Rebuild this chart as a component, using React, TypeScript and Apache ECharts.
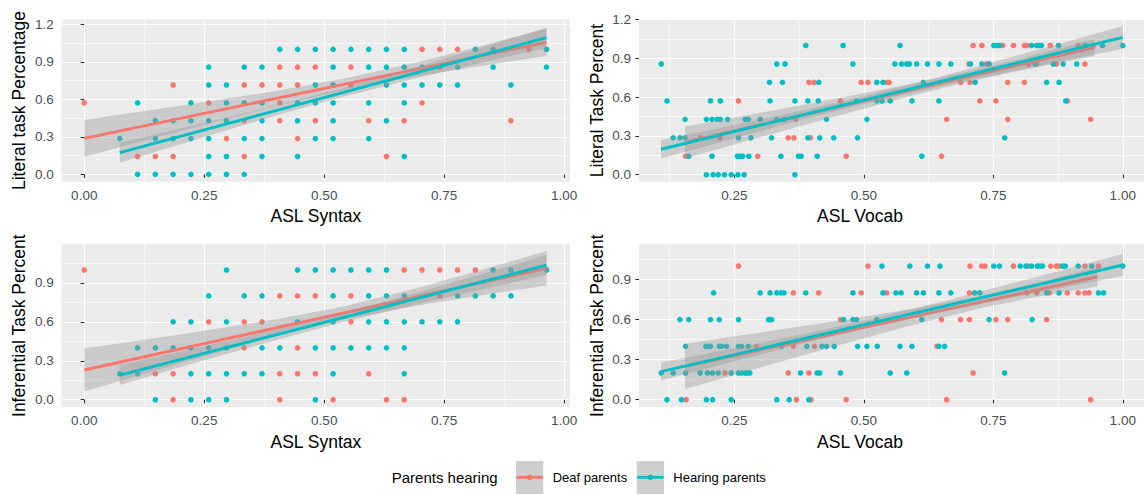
import React, { useEffect, useRef } from "react";
import * as echarts from "echarts";

const RED = "#F8766D";
const TEAL = "#00BFC4";
const FONT = "Liberation Sans, Arial, sans-serif";

// Raw item counts of the scored measures
const SYNTAX_ITEMS = 27;
const LITERAL_ITEMS = 7;
const INFERENTIAL_ITEMS = 5;

// ---- Panel 1: ASL Syntax score (/27) vs Literal task score (/7)
const P1_DEAF: number[][] = [
  [19, 7], [20, 7], [21, 7], [25, 7], [26, 7],
  [11, 6], [12, 6], [13, 6], [15, 6], [20, 6],
  [5, 5], [9, 5], [10, 5], [11, 5], [12, 5], [15, 5],
  [0, 4], [7, 4], [11, 4], [19, 4],
  [9, 3], [11, 3], [13, 3], [16, 3], [18, 3], [24, 3],
  [8, 2], [12, 2],
  [3, 1], [4, 1], [5, 1], [9, 1], [17, 1],
];
const P1_HEARING: number[][] = [
  [11, 7], [12, 7], [13, 7], [14, 7], [15, 7], [16, 7], [17, 7], [18, 7], [22, 7], [23, 7], [26, 7],
  [7, 6], [9, 6], [10, 6], [14, 6], [16, 6], [17, 6], [18, 6], [19, 6], [21, 6], [23, 6], [26, 6],
  [7, 5], [8, 5], [13, 5], [14, 5], [17, 5], [18, 5], [19, 5], [20, 5], [21, 5], [24, 5],
  [3, 4], [6, 4], [8, 4], [9, 4], [10, 4], [12, 4], [13, 4], [14, 4], [16, 4], [18, 4],
  [4, 3], [5, 3], [6, 3], [7, 3], [8, 3], [10, 3], [12, 3], [14, 3], [17, 3],
  [2, 2], [4, 2], [5, 2], [6, 2], [7, 2], [9, 2], [10, 2], [13, 2], [14, 2], [16, 2],
  [7, 1], [8, 1], [10, 1], [12, 1], [18, 1],
  [3, 0], [4, 0], [5, 0], [6, 0], [7, 0], [8, 0], [9, 0],
];

// ---- Panel 2: ASL Vocab (proportion) vs Literal task score (/7)
const P2_DEAF: number[][] = [
  [0.711, 7], [0.728, 7], [0.768, 7], [0.789, 7], [0.81, 7], [0.815, 7], [0.86, 7], [0.914, 7], [0.943, 7],
  [0.703, 6], [0.737, 6], [0.818, 6], [0.834, 6], [0.872, 6], [0.927, 6],
  [0.394, 5], [0.404, 5], [0.495, 5], [0.508, 5], [0.544, 5], [0.549, 5], [0.687, 5], [0.705, 5], [0.778, 5], [0.81, 5],
  [0.258, 4], [0.455, 4], [0.724, 4], [0.755, 4], [0.893, 4],
  [0.369, 3], [0.66, 3], [0.778, 3], [0.938, 3],
  [0.184, 2], [0.222, 2], [0.354, 2], [0.365, 2], [0.397, 2],
  [0.156, 1], [0.295, 1], [0.466, 1], [0.65, 1],
];
const P2_HEARING: number[][] = [
  [0.388, 7], [0.46, 7], [0.57, 7], [0.751, 7], [0.757, 7], [0.762, 7], [0.824, 7], [0.834, 7], [0.838, 7], [0.843, 7], [0.876, 7], [0.927, 7], [0.961, 7], [1.0, 7],
  [0.109, 6], [0.332, 6], [0.348, 6], [0.479, 6], [0.56, 6], [0.573, 6], [0.583, 6], [0.588, 6], [0.602, 6], [0.623, 6], [0.645, 6], [0.668, 6], [0.706, 6], [0.728, 6], [0.742, 6], [0.831, 6], [0.866, 6], [0.885, 6], [0.911, 6],
  [0.318, 5], [0.343, 5], [0.413, 5], [0.525, 5], [0.537, 5], [0.615, 5], [0.715, 5], [0.853, 5], [0.877, 5],
  [0.12, 4], [0.204, 4], [0.223, 4], [0.319, 4], [0.367, 4], [0.392, 4], [0.412, 4], [0.486, 4], [0.525, 4], [0.535, 4], [0.551, 4], [0.593, 4], [0.645, 4], [0.89, 4],
  [0.155, 3], [0.196, 3], [0.207, 3], [0.217, 3], [0.223, 3], [0.237, 3], [0.271, 3], [0.277, 3], [0.3, 3], [0.332, 3], [0.346, 3], [0.428, 3], [0.506, 3],
  [0.132, 2], [0.145, 2], [0.155, 2], [0.258, 2], [0.282, 2], [0.322, 2], [0.392, 2], [0.415, 2], [0.442, 2], [0.488, 2], [0.772, 2],
  [0.162, 1], [0.207, 1], [0.256, 1], [0.261, 1], [0.266, 1], [0.278, 1], [0.34, 1], [0.374, 1], [0.379, 1], [0.41, 1], [0.612, 1],
  [0.196, 0], [0.209, 0], [0.219, 0], [0.231, 0], [0.244, 0], [0.257, 0], [0.269, 0], [0.367, 0],
];

// ---- Panel 3: ASL Syntax score (/27) vs Inferential task score (/5)
const P3_DEAF: number[][] = [
  [0, 5], [18, 5], [19, 5], [20, 5], [21, 5], [22, 5], [26, 5],
  [11, 4], [12, 4], [13, 4], [15, 4], [20, 4],
  [7, 3], [9, 3], [10, 3], [15, 3],
  [9, 2], [12, 2],
  [4, 1], [5, 1], [11, 1], [12, 1], [13, 1], [16, 1],
  [5, 0], [11, 0], [14, 0], [17, 0], [18, 0],
];
const P3_HEARING: number[][] = [
  [8, 5], [12, 5], [13, 5], [14, 5], [15, 5], [16, 5], [17, 5], [23, 5], [24, 5], [26, 5],
  [7, 4], [9, 4], [10, 4], [14, 4], [16, 4], [17, 4], [18, 4], [21, 4], [22, 4], [23, 4], [24, 4],
  [5, 3], [6, 3], [8, 3], [12, 3], [14, 3], [16, 3], [17, 3], [18, 3], [19, 3], [20, 3], [21, 3],
  [3, 2], [4, 2], [5, 2], [6, 2], [7, 2], [8, 2], [10, 2], [11, 2], [13, 2], [14, 2], [15, 2], [16, 2], [17, 2], [18, 2],
  [2, 1], [3, 1], [6, 1], [7, 1], [8, 1], [9, 1], [10, 1], [14, 1], [18, 1],
  [4, 0], [6, 0], [7, 0], [8, 0], [13, 0],
];

// ---- Panel 4: ASL Vocab (proportion) vs Inferential task score (/5)
const P4_DEAF: number[][] = [
  [0.258, 5], [0.508, 5], [0.705, 5], [0.728, 5], [0.734, 5], [0.789, 5], [0.818, 5], [0.861, 5], [0.872, 5], [0.877, 5], [0.927, 5], [0.953, 5],
  [0.364, 4], [0.413, 4], [0.495, 4], [0.544, 4], [0.704, 4], [0.815, 4], [0.834, 4], [0.858, 4], [0.893, 4], [0.914, 4], [0.927, 4], [0.935, 4],
  [0.455, 3], [0.65, 3], [0.687, 3], [0.704, 3], [0.755, 3], [0.778, 3], [0.853, 3],
  [0.293, 2], [0.364, 2], [0.405, 2], [0.641, 2],
  [0.232, 1], [0.354, 1], [0.394, 1], [0.711, 1],
  [0.157, 0], [0.37, 0], [0.398, 0], [0.466, 0], [0.66, 0], [0.938, 0],
];
const P4_HEARING: number[][] = [
  [0.535, 5], [0.589, 5], [0.623, 5], [0.647, 5], [0.751, 5], [0.762, 5], [0.802, 5], [0.813, 5], [0.824, 5], [0.835, 5], [0.84, 5], [0.845, 5], [0.884, 5], [0.889, 5], [0.914, 5], [0.94, 5], [1.0, 5],
  [0.21, 4], [0.3, 4], [0.319, 4], [0.332, 4], [0.34, 4], [0.346, 4], [0.388, 4], [0.479, 4], [0.537, 4], [0.562, 4], [0.572, 4], [0.602, 4], [0.615, 4], [0.645, 4], [0.668, 4], [0.714, 4], [0.724, 4], [0.853, 4], [0.877, 4], [0.953, 4], [0.963, 4],
  [0.145, 3], [0.162, 3], [0.204, 3], [0.221, 3], [0.258, 3], [0.316, 3], [0.319, 3], [0.322, 3], [0.461, 3], [0.479, 3], [0.486, 3], [0.525, 3], [0.612, 3], [0.742, 3], [0.825, 3],
  [0.156, 2], [0.195, 2], [0.199, 2], [0.204, 2], [0.221, 2], [0.226, 2], [0.235, 2], [0.258, 2], [0.264, 2], [0.277, 2], [0.341, 2], [0.39, 2], [0.419, 2], [0.428, 2], [0.443, 2], [0.488, 2], [0.506, 2], [0.526, 2], [0.57, 2], [0.593, 2], [0.645, 2], [0.656, 2],
  [0.109, 1], [0.132, 1], [0.156, 1], [0.184, 1], [0.198, 1], [0.208, 1], [0.219, 1], [0.244, 1], [0.258, 1], [0.264, 1], [0.271, 1], [0.275, 1], [0.28, 1], [0.378, 1], [0.41, 1], [0.415, 1], [0.455, 1], [0.551, 1], [0.583, 1], [0.772, 1],
  [0.12, 0], [0.148, 0], [0.196, 0], [0.208, 0], [0.244, 0], [0.332, 0], [0.356, 0], [0.394, 0],
];

// ---- Fitted lines (x0, y0, x1, y1) and confidence bands
const P1_DEAF_FIT = [[0, 0.288], [0.963, 1.056]];
const P1_DEAF_BAND_X = [0, 0.2, 0.4, 0.56, 0.7, 0.85, 0.963];
const P1_DEAF_BAND_LO = [0.141, 0.347, 0.547, 0.69, 0.789, 0.881, 0.946];
const P1_DEAF_BAND_HI = [0.435, 0.548, 0.667, 0.78, 0.903, 1.051, 1.166];
const P1_HEAR_FIT = [[0.074, 0.173], [0.963, 1.093]];
const P1_HEAR_BAND_X = [0.074, 0.25, 0.4, 0.52, 0.7, 0.85, 0.963];
const P1_HEAR_BAND_LO = [0.093, 0.299, 0.47, 0.6, 0.776, 0.912, 1.013];
const P1_HEAR_BAND_HI = [0.253, 0.411, 0.55, 0.67, 0.867, 1.04, 1.173];

const P2_DEAF_FIT = [[0.155, 0.25], [0.945, 0.985]];
const P2_DEAF_BAND_X = [0.155, 0.3, 0.45, 0.6, 0.7, 0.8, 0.945];
const P2_DEAF_BAND_LO = [0.127, 0.291, 0.457, 0.619, 0.717, 0.805, 0.919];
const P2_DEAF_BAND_HI = [0.373, 0.479, 0.591, 0.709, 0.797, 0.895, 1.051];
const P2_HEAR_FIT = [[0.1085, 0.197], [1.0, 1.063]];
const P2_HEAR_BAND_X = [0.1085, 0.25, 0.4, 0.5, 0.65, 0.8, 1.0];
const P2_HEAR_BAND_LO = [0.126, 0.283, 0.446, 0.547, 0.684, 0.811, 0.976];
const P2_HEAR_BAND_HI = [0.268, 0.385, 0.514, 0.607, 0.762, 0.927, 1.151];

const P3_DEAF_FIT = [[0, 0.229], [0.963, 1.013]];
const P3_DEAF_BAND_X = [0, 0.2, 0.4, 0.54, 0.7, 0.85, 0.963];
const P3_DEAF_BAND_LO = [0.064, 0.281, 0.491, 0.619, 0.731, 0.818, 0.88];
const P3_DEAF_BAND_HI = [0.394, 0.503, 0.62, 0.719, 0.867, 1.024, 1.146];
const P3_HEAR_FIT = [[0.074, 0.19], [0.963, 1.038]];
const P3_HEAR_BAND_X = [0.074, 0.25, 0.4, 0.52, 0.7, 0.85, 0.963];
const P3_HEAR_BAND_LO = [0.113, 0.304, 0.461, 0.58, 0.742, 0.868, 0.961];
const P3_HEAR_BAND_HI = [0.267, 0.412, 0.541, 0.65, 0.832, 0.992, 1.115];

const P4_DEAF_FIT = [[0.155, 0.25], [0.951, 0.921]];
const P4_DEAF_BAND_X = [0.155, 0.3, 0.45, 0.6, 0.74, 0.85, 0.951];
const P4_DEAF_BAND_LO = [0.08, 0.241, 0.406, 0.566, 0.698, 0.782, 0.847];
const P4_DEAF_BAND_HI = [0.42, 0.503, 0.592, 0.685, 0.788, 0.89, 0.995];
const P4_HEAR_FIT = [[0.1085, 0.21], [1.0, 1.009]];
const P4_HEAR_BAND_X = [0.1085, 0.25, 0.4, 0.5, 0.65, 0.8, 1.0];
const P4_HEAR_BAND_LO = [0.143, 0.288, 0.437, 0.531, 0.657, 0.775, 0.926];
const P4_HEAR_BAND_HI = [0.278, 0.386, 0.505, 0.591, 0.733, 0.885, 1.092];

// ---- Tick labels
const SYNTAX_TICKS = [0, 0.25, 0.5, 0.75, 1.0];
const SYNTAX_MINOR = [0.125, 0.375, 0.625, 0.875];
const VOCAB_TICKS = [0.25, 0.5, 0.75, 1.0];
const VOCAB_MINOR = [0.125, 0.375, 0.625, 0.875];
const LITERAL_TICKS = [0, 0.3, 0.6, 0.9, 1.2];
const INFERENTIAL_TICKS = [0, 0.3, 0.6, 0.9];
const Y_MINOR = [0.15, 0.45, 0.75, 1.05];

const LEGEND_TITLE = "Parents hearing";
const GROUPS = ["Deaf parents", "Hearing parents"];

type Band = { x: number[]; lo: number[]; hi: number[] };
type Panel = {
  deaf: number[][];
  hearing: number[][];
  deafFit: number[][];
  hearFit: number[][];
  deafBand: Band;
  hearBand: Band;
  xRange: [number, number];
  yRange: [number, number];
  xTicks: number[];
  xMinor: number[];
  yTicks: number[];
  rect: { left: number; top: number; width: number; height: number };
  xTitle: string;
  yTitle: string;
};

const syn = (pts: number[][], ydiv: number) => pts.map(([k, j]) => [k / SYNTAX_ITEMS, j / ydiv]);
const voc = (pts: number[][], ydiv: number) => pts.map(([x, j]) => [x, j / ydiv]);

const PANELS: Panel[] = [
  {
    deaf: syn(P1_DEAF, LITERAL_ITEMS),
    hearing: syn(P1_HEARING, LITERAL_ITEMS),
    deafFit: P1_DEAF_FIT,
    hearFit: P1_HEAR_FIT,
    deafBand: { x: P1_DEAF_BAND_X, lo: P1_DEAF_BAND_LO, hi: P1_DEAF_BAND_HI },
    hearBand: { x: P1_HEAR_BAND_X, lo: P1_HEAR_BAND_LO, hi: P1_HEAR_BAND_HI },
    xRange: [-0.047, 1.012],
    yRange: [-0.059, 1.24],
    xTicks: SYNTAX_TICKS,
    xMinor: SYNTAX_MINOR,
    yTicks: LITERAL_TICKS,
    rect: { left: 61.7, top: 19.3, width: 508.3, height: 162.4 },
    xTitle: "ASL Syntax",
    yTitle: "Literal task Percentage",
  },
  {
    deaf: voc(P2_DEAF, LITERAL_ITEMS),
    hearing: voc(P2_HEARING, LITERAL_ITEMS),
    deafFit: P2_DEAF_FIT,
    hearFit: P2_HEAR_FIT,
    deafBand: { x: P2_DEAF_BAND_X, lo: P2_DEAF_BAND_LO, hi: P2_DEAF_BAND_HI },
    hearBand: { x: P2_HEAR_BAND_X, lo: P2_HEAR_BAND_LO, hi: P2_HEAR_BAND_HI },
    xRange: [0.066, 1.041],
    yRange: [-0.054, 1.203],
    xTicks: VOCAB_TICKS,
    xMinor: VOCAB_MINOR,
    yTicks: LITERAL_TICKS,
    rect: { left: 639, top: 19.3, width: 505, height: 162.4 },
    xTitle: "ASL Vocab",
    yTitle: "Literal Task Percent",
  },
  {
    deaf: syn(P3_DEAF, INFERENTIAL_ITEMS),
    hearing: syn(P3_HEARING, INFERENTIAL_ITEMS),
    deafFit: P3_DEAF_FIT,
    hearFit: P3_HEAR_FIT,
    deafBand: { x: P3_DEAF_BAND_X, lo: P3_DEAF_BAND_LO, hi: P3_DEAF_BAND_HI },
    hearBand: { x: P3_HEAR_BAND_X, lo: P3_HEAR_BAND_LO, hi: P3_HEAR_BAND_HI },
    xRange: [-0.047, 1.012],
    yRange: [-0.057, 1.198],
    xTicks: SYNTAX_TICKS,
    xMinor: SYNTAX_MINOR,
    yTicks: INFERENTIAL_TICKS,
    rect: { left: 61.7, top: 244.3, width: 508.3, height: 162.8 },
    xTitle: "ASL Syntax",
    yTitle: "Inferential Task Percent",
  },
  {
    deaf: voc(P4_DEAF, INFERENTIAL_ITEMS),
    hearing: voc(P4_HEARING, INFERENTIAL_ITEMS),
    deafFit: P4_DEAF_FIT,
    hearFit: P4_HEAR_FIT,
    deafBand: { x: P4_DEAF_BAND_X, lo: P4_DEAF_BAND_LO, hi: P4_DEAF_BAND_HI },
    hearBand: { x: P4_HEAR_BAND_X, lo: P4_HEAR_BAND_LO, hi: P4_HEAR_BAND_HI },
    xRange: [0.066, 1.041],
    yRange: [-0.0554, 1.164],
    xTicks: VOCAB_TICKS,
    xMinor: VOCAB_MINOR,
    yTicks: INFERENTIAL_TICKS,
    rect: { left: 639, top: 244.3, width: 505, height: 162.8 },
    xTitle: "ASL Vocab",
    yTitle: "Inferential Task Percent",
  },
];

const TICK_FONT = 13.5;
const TITLE_FONT = 17.5;

function buildOption() {
  const grid: any[] = [];
  const xAxis: any[] = [];
  const yAxis: any[] = [];
  const series: any[] = [];
  const graphic: any[] = [];

  PANELS.forEach((p, i) => {
    grid.push({
      ...p.rect,
      show: true,
      backgroundColor: "#EBEBEB",
      borderWidth: 0,
      containLabel: false,
    });
    // major axis (ticks, labels, major grid)
    xAxis.push({
      type: "value",
      gridIndex: i,
      min: p.xRange[0],
      max: p.xRange[1],
      position: "bottom",
      axisLine: { show: false },
      axisTick: {
        show: true,
        length: 3.7,
        customValues: p.xTicks,
        lineStyle: { color: "#333333", width: 1.07 },
      },
      axisLabel: {
        customValues: p.xTicks,
        formatter: (v: number) => v.toFixed(2),
        color: "#4D4D4D",
        fontSize: TICK_FONT,
        fontFamily: FONT,
        margin: 6.5,
      },
      splitLine: { show: true, lineStyle: { color: "#FFFFFF", width: 1.07 } },
      z: 1,
    });
    // minor grid axis
    xAxis.push({
      type: "value",
      gridIndex: i,
      min: p.xRange[0],
      max: p.xRange[1],
      position: "top",
      axisLine: { show: false },
      axisTick: { show: false, customValues: p.xMinor },
      axisLabel: { show: false, customValues: p.xMinor },
      splitLine: { show: true, lineStyle: { color: "#FFFFFF", width: 0.55 } },
      z: 0,
    });
    yAxis.push({
      type: "value",
      gridIndex: i,
      min: p.yRange[0],
      max: p.yRange[1],
      position: "left",
      axisLine: { show: false },
      axisTick: {
        show: true,
        length: 3.7,
        customValues: p.yTicks,
        lineStyle: { color: "#333333", width: 1.07 },
      },
      axisLabel: {
        customValues: p.yTicks,
        formatter: (v: number) => v.toFixed(1),
        color: "#4D4D4D",
        fontSize: TICK_FONT,
        fontFamily: FONT,
        margin: 8,
      },
      splitLine: { show: true, lineStyle: { color: "#FFFFFF", width: 1.07 } },
      z: 1,
    });
    yAxis.push({
      type: "value",
      gridIndex: i,
      min: p.yRange[0],
      max: p.yRange[1],
      position: "right",
      axisLine: { show: false },
      axisTick: { show: false, customValues: Y_MINOR },
      axisLabel: { show: false, customValues: Y_MINOR },
      splitLine: { show: true, lineStyle: { color: "#FFFFFF", width: 0.55 } },
      z: 0,
    });

    const xi = 2 * i;
    const yi = 2 * i;

    const scatter = (name: string, data: number[][], color: string, z: number) => ({
      type: "scatter",
      name,
      xAxisIndex: xi,
      yAxisIndex: yi,
      data,
      symbol: "circle",
      symbolSize: 5.6,
      itemStyle: { color, opacity: 1 },
      silent: true,
      z,
    });
    const band = (b: Band, z: number) => ({
      type: "custom",
      xAxisIndex: xi,
      yAxisIndex: yi,
      silent: true,
      z,
      data: b.x.map((x, k) => [x, b.lo[k], b.hi[k]]),
      encode: { x: 0, y: [1, 2] },
      renderItem: (params: any, api: any) => {
        if (params.dataIndex !== 0) return null;
        const upper = b.x.map((x, k) => api.coord([x, b.hi[k]]));
        const lower = b.x.map((x, k) => api.coord([x, b.lo[k]])).reverse();
        return {
          type: "polygon",
          shape: { points: upper.concat(lower) },
          style: { fill: "rgba(153,153,153,0.4)" },
        };
      },
    });
    const fit = (data: number[][], color: string, z: number) => ({
      type: "line",
      xAxisIndex: xi,
      yAxisIndex: yi,
      data,
      showSymbol: false,
      symbol: "none",
      lineStyle: { color, width: 2.9, cap: "butt" },
      silent: true,
      z,
    });

    series.push(scatter(GROUPS[0], p.deaf, RED, 2));
    series.push(scatter(GROUPS[1], p.hearing, TEAL, 3));
    series.push(band(p.deafBand, 4));
    series.push(fit(p.deafFit, RED, 5));
    series.push(band(p.hearBand, 6));
    series.push(fit(p.hearFit, TEAL, 7));

    // axis titles
    const r = p.rect;
    const rowBottom = r.top + r.height;
    graphic.push({
      type: "text",
      x: i % 2 === 0 ? r.left + r.width / 2 : 860,
      y: rowBottom + 34.5,
      style: {
        text: p.xTitle,
        fontSize: TITLE_FONT,
        fontFamily: FONT,
        fill: "#000000",
        textAlign: "center",
        textVerticalAlign: "middle",
      },
    });
    graphic.push({
      type: "text",
      x: r.left - 42.5,
      y: r.top + r.height / 2,
      rotation: Math.PI / 2,
      style: {
        text: p.yTitle,
        fontSize: TITLE_FONT,
        fontFamily: FONT,
        fill: "#000000",
        textAlign: "center",
        textVerticalAlign: "middle",
      },
    });
  });

  // legend
  const ly = 477.3;
  graphic.push({
    type: "text",
    x: 391.7,
    y: ly,
    style: {
      text: LEGEND_TITLE,
      fontSize: 15,
      fontFamily: FONT,
      fill: "#000000",
      textAlign: "left",
      textVerticalAlign: "middle",
    },
  });
  const keys = [
    { x: 516, color: RED, label: GROUPS[0], tx: 552.7 },
    { x: 636.7, color: TEAL, label: GROUPS[1], tx: 673.3 },
  ];
  keys.forEach((k) => {
    graphic.push({
      type: "rect",
      shape: { x: k.x, y: 461, width: 27.3, height: 33 },
      style: { fill: "#CFCFCF" },
    });
    graphic.push({
      type: "line",
      shape: { x1: k.x + 0.5, y1: ly, x2: k.x + 26.8, y2: ly },
      style: { stroke: k.color, lineWidth: 2.9 },
    });
    graphic.push({
      type: "circle",
      shape: { cx: k.x + 13.65, cy: ly, r: 2.8 },
      style: { fill: k.color },
    });
    graphic.push({
      type: "text",
      x: k.tx,
      y: ly,
      style: {
        text: k.label,
        fontSize: 13,
        fontFamily: FONT,
        fill: "#000000",
        textAlign: "left",
        textVerticalAlign: "middle",
      },
    });
  });

  return {
    animation: false,
    backgroundColor: "#FFFFFF",
    textStyle: { fontFamily: FONT },
    grid,
    xAxis,
    yAxis,
    series,
    graphic,
  };
}

export default function App() {
  const ref = useRef<HTMLDivElement>(null);
  useEffect(() => {
    if (!ref.current) return;
    const chart = echarts.init(ref.current, undefined, { renderer: "svg" });
    chart.setOption(buildOption() as any);
    return () => chart.dispose();
  }, []);
  return (
    <div
      ref={ref}
      style={{ position: "fixed", left: 0, top: 0, width: 1144, height: 495, background: "#FFFFFF" }}
    />
  );
}
